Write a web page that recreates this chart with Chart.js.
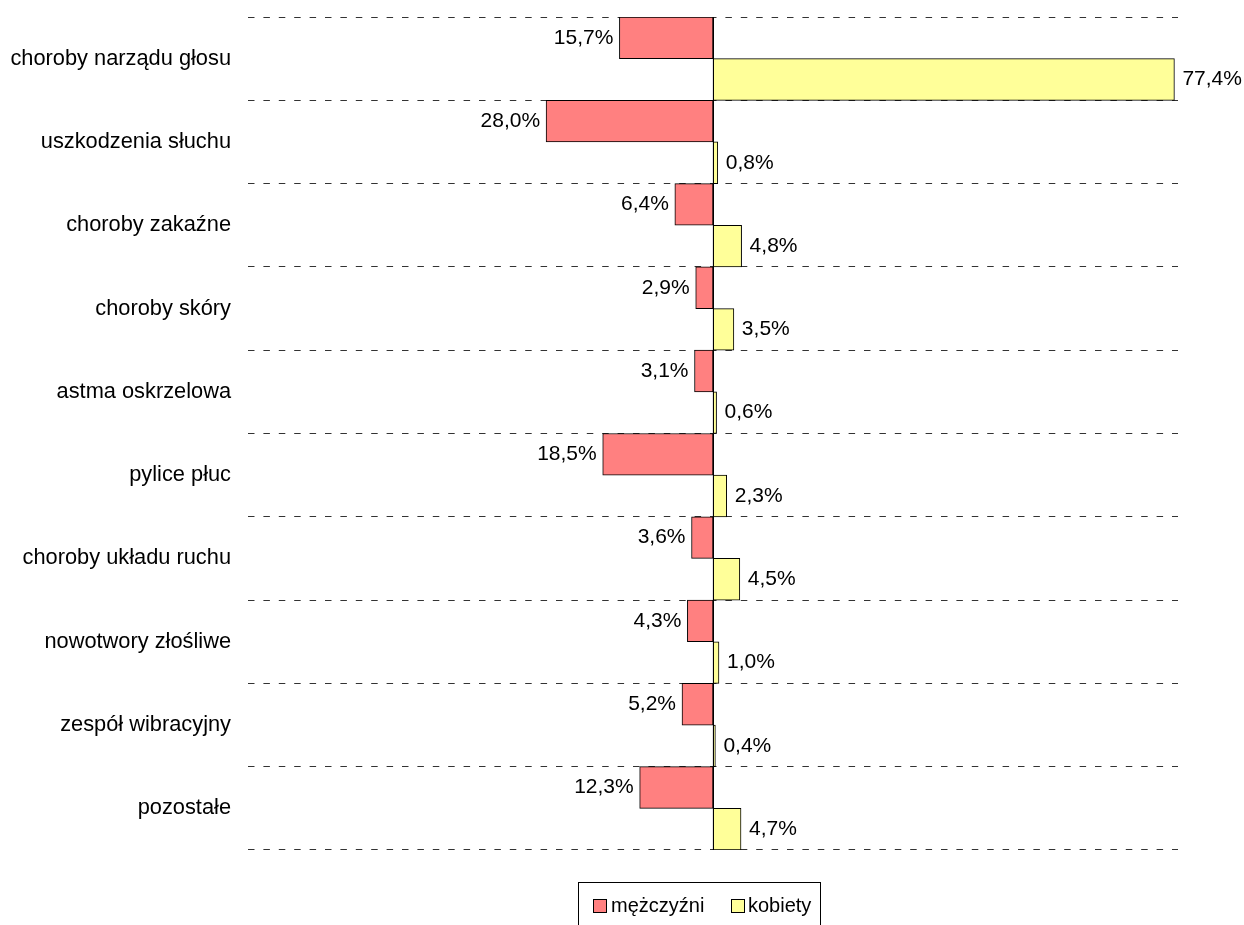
<!DOCTYPE html>
<html>
<head>
<meta charset="utf-8">
<script src="https://cdn.jsdelivr.net/npm/chart.js@4/dist/chart.umd.min.js"></script>
<style>
html,body{margin:0;padding:0;background:#fff;}
#wrap{position:relative;width:1244px;height:925px;}
</style>
</head>
<body>
<div id="wrap"><canvas id="c" width="1244" height="925"></canvas></div>
<script>
const categories = ["choroby narządu głosu","uszkodzenia słuchu","choroby zakaźne","choroby skóry","astma oskrzelowa","pylice płuc","choroby układu ruchu","nowotwory złośliwe","zespół wibracyjny","pozostałe"];
const seriesNames = ["mężczyźni","kobiety"];
const men = [15.7,28.0,6.4,2.9,3.1,18.5,3.6,4.3,5.2,12.3];
const women = [77.4,0.8,4.8,3.5,0.6,2.3,4.5,1.0,0.4,4.7];

const FONT = "Liberation Sans, Arial, sans-serif";
const fmt = v => Math.abs(v).toFixed(1).replace('.', ',') + '%';

const extras = {
  id: 'extras',
  afterDatasetsDraw(chart) {
    const ctx = chart.ctx;
    const x = chart.scales.x, area = chart.chartArea;
    const z = Math.round(x.getPixelForValue(0)) + 0.5;
    ctx.save();
    ctx.strokeStyle = '#000';
    ctx.lineWidth = 1;
    ctx.beginPath(); ctx.moveTo(z, area.top); ctx.lineTo(z, area.bottom); ctx.stroke();
    ctx.font = '21px ' + FONT;
    ctx.fillStyle = '#000';
    ctx.textBaseline = 'middle';
    chart.data.datasets.forEach((ds, di) => {
      const meta = chart.getDatasetMeta(di);
      meta.data.forEach((bar, i) => {
        const v = ds.data[i];
        if (v < 0) { ctx.textAlign = 'right'; ctx.fillText(fmt(v), bar.x - 6, bar.y); }
        else { ctx.textAlign = 'left'; ctx.fillText(fmt(v), bar.x + 8, bar.y); }
      });
    });
    // legend
    ctx.font = '20px ' + FONT;
    ctx.strokeStyle = '#000';
    ctx.strokeRect(578.5, 882.5, 242, 60);
    const items = [[593, seriesNames[0], '#FF8080', 611], [731, seriesNames[1], '#FFFF99', 748]];
    items.forEach(([mx, t, col, tx]) => {
      ctx.fillStyle = col;
      ctx.fillRect(mx + 0.5, 899.5, 13, 13);
      ctx.strokeRect(mx + 0.5, 899.5, 13, 13);
      ctx.fillStyle = '#000';
      ctx.textAlign = 'left';
      ctx.fillText(t, tx, 906);
    });
    ctx.restore();
  }
};

new Chart(document.getElementById('c'), {
  type: 'bar',
  data: {
    labels: categories,
    datasets: [
      { label: seriesNames[0], data: men.map(v => -v), backgroundColor: '#FF8080', borderColor: '#000', borderWidth: 1, borderSkipped: false },
      { label: seriesNames[1], data: women, backgroundColor: '#FFFF99', borderColor: '#000', borderWidth: 1, borderSkipped: false }
    ]
  },
  options: {
    indexAxis: 'y',
    responsive: false,
    animation: false,
    datasets: { bar: { categoryPercentage: 1, barPercentage: 1 } },
    layout: { autoPadding: false, padding: { left: 0, right: 66, top: 17, bottom: 75 } },
    plugins: { legend: { display: false }, tooltip: { enabled: false } },
    scales: {
      x: { display: false, min: -78, max: 78 },
      y: {
        grid: { offset: true, color: '#333', drawTicks: false },
        border: { display: false, dash: [6.5, 8.9] },
        ticks: { color: '#000', font: { size: 21.8, family: FONT }, padding: 17 },
        afterFit(s) { s.width = 248; s.paddingTop = 0; s.paddingBottom = 0; s.paddingLeft = 0; s.paddingRight = 0; }
      }
    }
  },
  plugins: [extras]
});
</script>
</body>
</html>
